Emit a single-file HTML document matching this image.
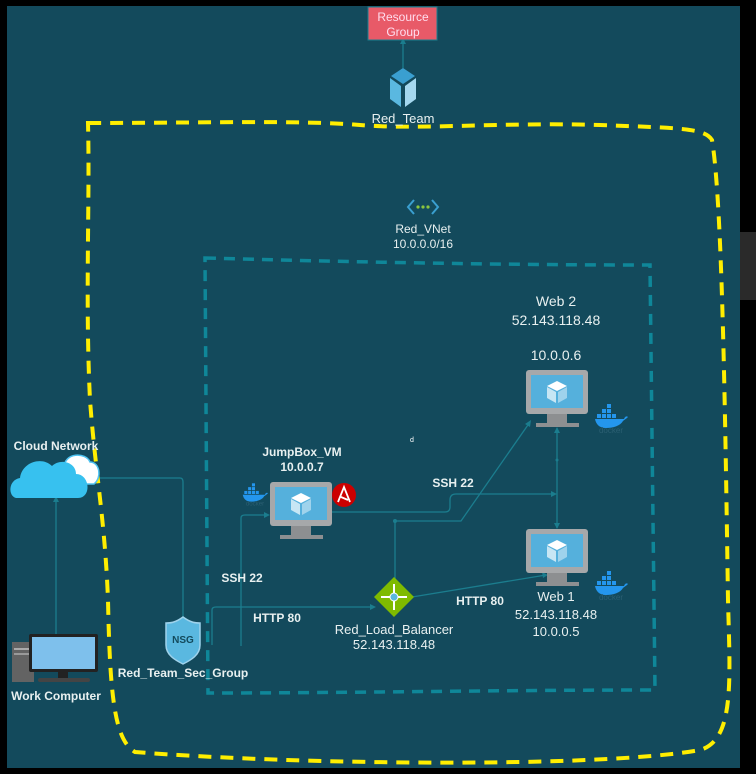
<!DOCTYPE html>
<html><head><meta charset="utf-8"><style>
html,body{margin:0;padding:0;background:#000;}
body{width:756px;height:774px;overflow:hidden;position:relative;font-family:"Liberation Sans",Arial,sans-serif;}
svg{position:absolute;left:0;top:0;}
</style></head><body>
<svg width="756" height="774" viewBox="0 0 756 774" xmlns="http://www.w3.org/2000/svg" font-family="Liberation Sans, Arial, sans-serif">
<defs>
<symbol id="mon" viewBox="0 0 62 58">
  <rect x="0" y="0" width="62" height="44" rx="3" fill="#a6a8aa"/>
  <rect x="5" y="5" width="52" height="33" fill="#55b0dc"/>
  <rect x="21" y="44" width="20" height="9" fill="#8d8f91"/>
  <rect x="10" y="53" width="43" height="4" fill="#8d8f91"/>
  <polygon points="31,11 41,16 31,21 21,16" fill="#fff"/>
  <polygon points="21,17 30,22 30,33 21,28" fill="#c7e6f4"/>
  <polygon points="41,17 32,22 32,33 41,28" fill="#9fd3ec"/>
</symbol>
<symbol id="dock" viewBox="0 0 34 30">
  <g fill="#2496ed">
   <rect x="8" y="6" width="4" height="4"/><rect x="13" y="6" width="4" height="4"/><rect x="13" y="1" width="4" height="4"/>
   <rect x="3" y="11" width="4" height="4"/><rect x="8" y="11" width="4" height="4"/><rect x="13" y="11" width="4" height="4"/><rect x="18" y="11" width="4" height="4"/>
   <path d="M1 16 H30 C31 13 33 13 34 14 C32 16 30 17 29 18 C26 23 19 25 12 25 C5 25 2 21 1 16Z"/>
  </g>
  <text x="17" y="30" font-size="8" fill="#2b5f72" text-anchor="middle">docker</text>
</symbol>
</defs>
<rect x="7" y="6" width="733" height="762" fill="#134a5c"/>
<rect x="740" y="232" width="16" height="68" fill="#2a2a2a"/>

<!-- yellow dashed boundary -->
<path d="M88 123 C200 123 300 120 360 125 C420 130 500 122 600 125 C680 128 705 128 712 140 C722 200 725 400 728 600 C730 680 735 740 700 750 C600 768 300 765 135 752 C115 740 110 700 108 600 C105 520 95 470 90 400 C85 300 90 200 88 123Z" fill="none" stroke="#ffee00" stroke-width="4" stroke-dasharray="13 9"/>
<!-- teal dashed box -->
<path d="M205 258 C350 262 500 265 650 265 L655 690 C500 690 350 693 208 693 L205 258Z" fill="none" stroke="#0f8799" stroke-width="3.5" stroke-dasharray="11 8"/>

<!-- connectors -->
<g stroke="#1b7d8e" stroke-width="1.3" fill="none">
 <line x1="403" y1="40" x2="403" y2="68"/>
 <line x1="56" y1="635" x2="56" y2="498"/>
 <path d="M100 478 H180 Q183 478 183 482 V630"/>
 <path d="M212 645 V610 Q212 607 216 607 H373"/>
 <path d="M241 646 V518 Q241 515 245 515 H268"/>
 <path d="M332 512 H445 Q450 512 450 507 V500 Q450 494 456 494 H555"/>
 <path d="M395 580 V521 H461 L530 422"/>
 <line x1="557" y1="428" x2="557" y2="528"/>
 <line x1="412" y1="597" x2="546" y2="575"/>
</g>
<g fill="#1b7d8e">
 <polygon points="403,38 400,44 406,44"/>
 <polygon points="56,496 53,502 59,502"/>
 <polygon points="183,632 180,626 186,626"/>
 <polygon points="376,607 370,604 370,610"/>
 <polygon points="270,515 264,512 264,518"/>
 <polygon points="557,494 551,491 551,497"/>
 <polygon points="531,420 525,424 530,427"/>
 <polygon points="557,427 554,433 560,433"/>
 <polygon points="557,529 554,523 560,523"/>
 <polygon points="548,575 542,572 543,578"/>
 <circle cx="395" cy="521" r="2"/><circle cx="557" cy="460" r="1.5"/>
</g>

<!-- Resource group -->
<rect x="368" y="7" width="69" height="33" fill="#e85a68" stroke="#1b7d8e"/>
<text x="403" y="21" font-size="12" fill="#fde" text-anchor="middle">Resource</text>
<text x="403" y="36" font-size="12" fill="#fde" text-anchor="middle">Group</text>
<!-- Red_Team cube -->
<polygon points="403,68 415,76 403,84 391,76" fill="#3a9fd0"/>
<polygon points="390,78 401,86 401,107 390,99" fill="#5ab8e0"/>
<polygon points="416,78 405,86 405,107 416,99" fill="#a5d8ef"/>
<text x="403" y="123" font-size="13" fill="#e8f0f0" text-anchor="middle">Red_Team</text>

<!-- VNet -->
<path d="M414 200 L408 207 L414 214 M432 200 L438 207 L432 214" stroke="#3a9fd0" stroke-width="2" fill="none"/>
<circle cx="418" cy="207" r="1.6" fill="#8cc63f"/><circle cx="423" cy="207" r="1.6" fill="#8cc63f"/><circle cx="428" cy="207" r="1.6" fill="#8cc63f"/>
<text x="423" y="233" font-size="12" fill="#e8f0f0" text-anchor="middle">Red_VNet</text>
<text x="423" y="248" font-size="12" fill="#e8f0f0" text-anchor="middle">10.0.0.0/16</text>

<!-- Web2 -->
<text x="556" y="306" font-size="14" fill="#e8f0f0" text-anchor="middle">Web 2</text>
<text x="556" y="325" font-size="14" fill="#e8f0f0" text-anchor="middle">52.143.118.48</text>
<text x="556" y="360" font-size="14" fill="#e8f0f0" text-anchor="middle">10.0.0.6</text>
<use href="#mon" x="526" y="370" width="62" height="58"/>
<use href="#dock" x="594" y="403" width="34" height="30"/>
<text x="410" y="442" font-size="7" fill="#fff">d</text>

<!-- JumpBox -->
<text x="302" y="456" font-size="12" fill="#e8f0f0" text-anchor="middle" font-weight="bold">JumpBox_VM</text>
<text x="302" y="471" font-size="12" fill="#e8f0f0" text-anchor="middle" font-weight="bold">10.0.0.7</text>
<use href="#mon" x="270" y="482" width="62" height="58"/>
<use href="#dock" x="242" y="481" width="26" height="26"/>
<circle cx="344" cy="495" r="12" fill="#cc0000"/>
<path d="M338 502 L344 487 L350 502 M341 497 L348 500" stroke="#fff" stroke-width="1.8" fill="none"/>
<text x="453" y="487" font-size="12" fill="#e8f0f0" text-anchor="middle" font-weight="bold">SSH 22</text>

<!-- Cloud -->
<text x="56" y="450" font-size="12" fill="#e8f0f0" text-anchor="middle" font-weight="bold">Cloud Network</text>
<path d="M64 468 C64 452 86 452 90 462 C100 462 102 478 94 484 L64 484Z" fill="#fff" stroke="#4fc3f0" stroke-width="1.5"/>
<path d="M16 498 C8 496 8 480 20 478 C22 462 42 456 52 466 C60 458 76 462 76 474 C90 474 92 498 78 498Z" fill="#37c1ef"/>

<!-- Work computer -->
<rect x="12" y="642" width="22" height="40" fill="#636363"/>
<rect x="14" y="648" width="18" height="2" fill="#aaa"/><rect x="14" y="653" width="18" height="2" fill="#999"/>
<rect x="29" y="634" width="69" height="38" rx="2" fill="#222"/>
<rect x="32" y="637" width="63" height="32" fill="#7ec0ec"/>
<rect x="58" y="672" width="10" height="6" fill="#222"/>
<rect x="38" y="678" width="52" height="4" rx="2" fill="#444"/>
<text x="56" y="700" font-size="12" fill="#e8f0f0" text-anchor="middle" font-weight="bold">Work Computer</text>

<!-- NSG -->
<path d="M183 617 C175 623 170 623 166 623 V645 C166 655 175 660 183 664 C191 660 200 655 200 645 V623 C196 623 191 623 183 617Z" fill="#5ab8e0" stroke="#9fd3ec" stroke-width="1.5"/>
<text x="183" y="643" font-size="10" fill="#134a5c" text-anchor="middle" font-weight="bold">NSG</text>
<text x="183" y="677" font-size="12" fill="#e8f0f0" text-anchor="middle" font-weight="bold">Red_Team_Sec_Group</text>

<text x="242" y="582" font-size="12" fill="#e8f0f0" text-anchor="middle" font-weight="bold">SSH 22</text>
<text x="277" y="622" font-size="12" fill="#e8f0f0" text-anchor="middle" font-weight="bold">HTTP 80</text>

<!-- Load balancer -->
<polygon points="394,577 414,597 394,617 374,597" fill="#7fba00"/>
<path d="M394 584 V610 M381 597 H407" stroke="#fff" stroke-width="2"/>
<circle cx="394" cy="597" r="4" fill="#5ab8e0" stroke="#fff"/>
<text x="394" y="634" font-size="13" fill="#e8f0f0" text-anchor="middle">Red_Load_Balancer</text>
<text x="394" y="649" font-size="13" fill="#e8f0f0" text-anchor="middle">52.143.118.48</text>

<!-- Web1 -->
<text x="480" y="605" font-size="12" fill="#e8f0f0" text-anchor="middle" font-weight="bold">HTTP 80</text>
<use href="#mon" x="526" y="529" width="62" height="58"/>
<use href="#dock" x="594" y="570" width="34" height="30"/>
<text x="556" y="601" font-size="13" fill="#e8f0f0" text-anchor="middle">Web 1</text>
<text x="556" y="619" font-size="13" fill="#e8f0f0" text-anchor="middle">52.143.118.48</text>
<text x="556" y="636" font-size="13" fill="#e8f0f0" text-anchor="middle">10.0.0.5</text>
</svg>
</body></html>
